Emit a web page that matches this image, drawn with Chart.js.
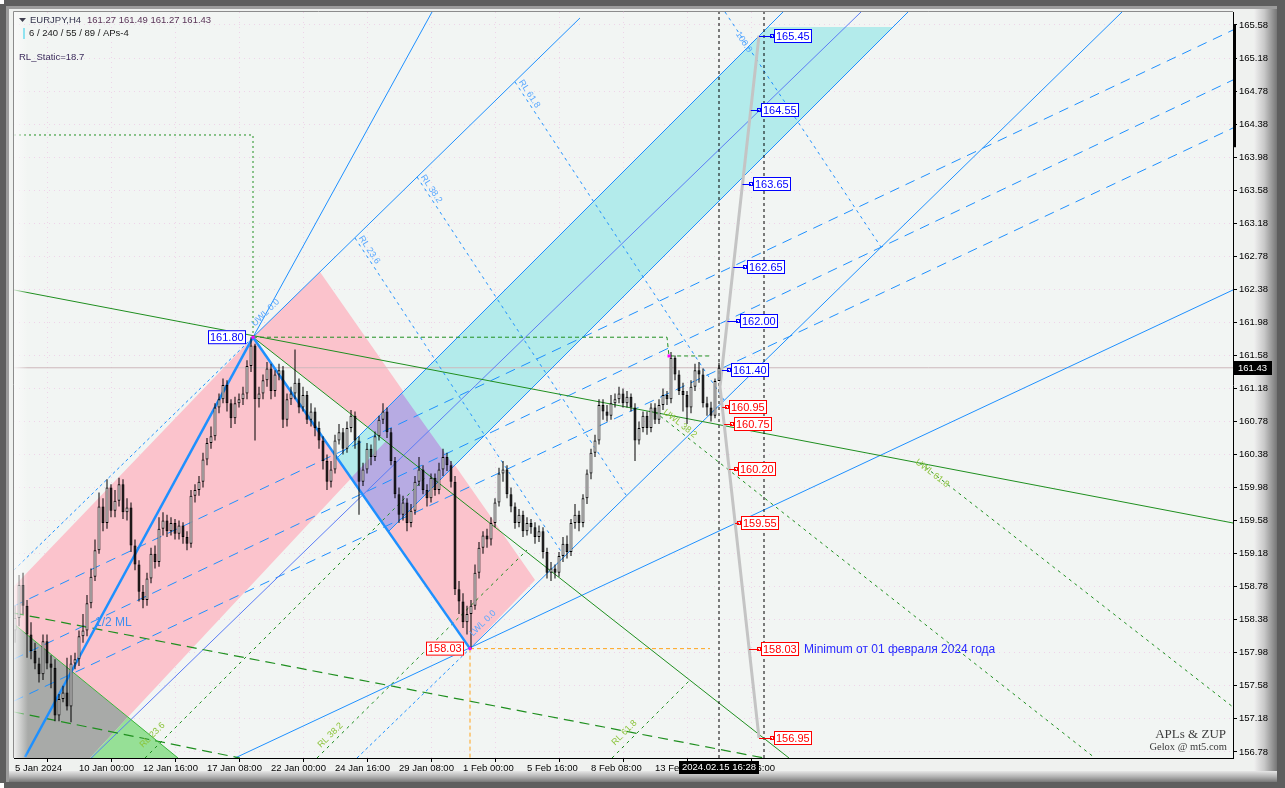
<!DOCTYPE html>
<html>
<head>
<meta charset="utf-8">
<title>EURJPY,H4</title>
<script src="https://cdn.jsdelivr.net/npm/chart.js@4.4.1/dist/chart.umd.min.js"></script>
<style>
html,body{margin:0;padding:0;background:#5f5f5f;overflow:hidden;}
#wrap{position:relative;width:1285px;height:788px;}
canvas{display:block;}
</style>
</head>
<body>
<div id="wrap"><canvas id="chart" width="1285" height="788"></canvas></div>
<script>
// ================= DATA =================
const firstBar = -16;   // bar index of the first candle (10 Jan 00:00 = bar 0)
const opens = [
158.25,158.40,158.80,158.55,158.20,158.00,157.85,157.72,158.12,157.85,157.80,157.22,157.42,157.50,157.33,157.85,
157.90,158.18,158.25,158.58,158.90,159.22,159.75,159.55,159.98,159.70,159.82,160.02,159.68,159.74,159.28,159.05,
158.72,158.62,158.88,159.18,159.08,159.48,159.58,159.45,159.55,159.42,159.52,159.38,159.30,159.88,159.95,160.05,
160.32,160.52,160.60,160.95,161.05,161.22,161.00,160.82,161.00,161.05,161.12,161.45,161.70,161.05,161.12,161.28,
161.42,161.15,161.35,161.40,160.80,161.05,161.12,161.25,160.95,161.10,160.80,160.90,160.70,160.55,160.30,160.05,
160.20,160.55,160.65,160.45,160.70,160.85,160.55,160.05,160.20,160.45,160.35,160.60,160.80,160.90,160.65,160.30,
159.90,159.65,159.80,159.55,159.70,160.05,160.20,159.95,159.85,160.10,159.95,160.20,160.35,160.25,160.05,158.75,
158.60,158.35,158.45,158.55,158.95,159.25,159.40,159.35,159.55,159.80,160.15,160.20,159.90,159.75,159.55,159.65,
159.45,159.55,159.50,159.38,159.45,159.20,158.95,159.00,158.95,159.15,159.30,159.20,159.55,159.65,159.55,159.85,
160.15,160.40,160.55,160.98,160.90,160.85,161.00,161.05,161.12,161.00,161.08,160.95,160.55,160.70,160.85,160.70,
160.95,160.80,160.98,161.10,161.05,161.55,161.35,161.15,161.10,160.95,161.20,161.40,161.35,161.00,160.95,160.85,
161.27];
const highs = [
158.55,158.92,158.95,158.62,158.35,158.10,157.92,158.20,158.20,157.95,157.90,157.48,157.58,157.92,157.95,157.98,
158.25,158.45,158.68,159.00,159.35,159.92,159.85,160.08,160.02,159.95,160.10,160.08,159.85,159.80,159.35,159.10,
158.80,158.95,159.25,159.28,159.62,159.68,159.65,159.62,159.60,159.58,159.56,159.45,159.95,160.02,160.12,160.40,
160.58,160.72,161.00,161.12,161.30,161.28,161.05,161.08,161.12,161.20,161.52,161.80,161.72,161.20,161.35,161.50,
161.48,161.40,161.48,161.45,161.12,161.20,161.65,161.30,161.20,161.15,161.00,160.95,160.78,160.60,160.38,160.30,
160.62,160.75,160.70,160.78,160.92,160.90,160.60,160.28,160.52,160.50,160.66,160.85,161.00,160.95,160.70,160.35,
159.98,159.88,159.85,159.78,160.12,160.35,160.25,160.02,160.15,160.15,160.28,160.45,160.40,160.30,160.12,158.85,
158.70,158.55,158.62,159.05,159.32,159.45,159.48,159.62,159.85,160.22,160.30,160.25,159.98,159.80,159.72,159.70,
159.62,159.60,159.56,159.52,159.50,159.25,159.08,159.05,159.20,159.38,159.40,159.60,159.78,159.70,159.90,160.20,
160.45,160.62,161.05,161.05,160.98,161.10,161.12,161.20,161.18,161.15,161.12,161.00,160.78,160.90,160.90,161.00,
161.00,161.05,161.18,161.15,161.62,161.58,161.40,161.25,161.15,161.28,161.48,161.50,161.42,161.08,161.02,161.30,
161.49];
const lows = [
158.10,158.30,158.45,157.92,157.90,157.78,157.62,157.65,157.78,157.55,157.15,157.15,157.38,157.28,157.14,157.78,
157.82,158.10,158.18,158.52,158.85,159.18,159.45,159.48,159.62,159.62,159.75,159.60,159.58,159.20,158.98,158.60,
158.52,158.55,158.82,159.00,159.02,159.40,159.38,159.40,159.35,159.35,159.30,159.22,159.25,159.80,159.88,159.98,
160.25,160.45,160.55,160.88,161.00,160.90,160.70,160.75,160.95,160.98,161.05,161.38,160.55,160.95,161.05,161.20,
161.05,161.08,161.28,160.70,160.72,160.98,161.05,160.88,160.90,160.75,160.72,160.60,160.45,160.20,159.95,159.98,
160.15,160.50,160.38,160.40,160.65,160.45,159.65,160.00,160.15,160.25,160.30,160.55,160.75,160.58,160.25,159.85,
159.55,159.58,159.45,159.50,159.65,160.00,159.90,159.75,159.80,159.88,159.90,160.12,160.18,159.98,158.68,158.45,
158.28,158.20,158.03,158.50,158.88,159.18,159.25,159.28,159.50,159.75,160.05,159.85,159.68,159.48,159.50,159.38,
159.40,159.42,159.30,159.32,159.12,158.88,158.85,158.88,158.90,159.08,159.12,159.15,159.48,159.45,159.50,159.78,
160.08,160.35,160.50,160.80,160.78,160.80,160.95,161.00,160.95,160.95,160.90,160.30,160.50,160.65,160.62,160.65,
160.75,160.75,160.92,160.98,161.00,161.28,161.10,160.90,160.75,160.88,161.15,161.25,160.95,160.85,160.78,160.82,
161.27];
const closes = [
158.40,158.80,158.55,158.20,158.00,157.85,157.72,158.12,157.85,157.80,157.22,157.42,157.50,157.33,157.85,157.90,
158.18,158.25,158.58,158.90,159.22,159.75,159.55,159.98,159.70,159.82,160.02,159.68,159.74,159.28,159.05,158.72,
158.62,158.88,159.18,159.08,159.48,159.58,159.45,159.55,159.42,159.52,159.38,159.30,159.88,159.95,160.05,160.32,
160.52,160.60,160.95,161.05,161.22,161.00,160.82,161.00,161.05,161.12,161.45,161.70,161.05,161.12,161.28,161.42,
161.15,161.35,161.40,160.80,161.05,161.12,161.25,160.95,161.10,160.80,160.90,160.70,160.55,160.30,160.05,160.20,
160.55,160.65,160.45,160.70,160.85,160.55,160.05,160.20,160.45,160.35,160.60,160.80,160.90,160.65,160.30,159.90,
159.65,159.80,159.55,159.70,160.05,160.20,159.95,159.85,160.10,159.95,160.20,160.35,160.25,160.05,158.75,158.60,
158.35,158.45,158.55,158.95,159.25,159.40,159.35,159.55,159.80,160.15,160.20,159.90,159.75,159.55,159.65,159.45,
159.55,159.50,159.38,159.45,159.20,158.95,159.00,158.95,159.15,159.30,159.20,159.55,159.65,159.55,159.85,160.15,
160.40,160.55,160.98,160.90,160.85,161.00,161.05,161.12,161.00,161.08,160.95,160.55,160.70,160.85,160.70,160.95,
160.80,160.98,161.10,161.05,161.55,161.35,161.15,161.10,160.95,161.20,161.40,161.35,161.00,160.95,160.85,161.27,
161.43];

const timeTickIdx = [-16, 0, 16, 32, 48, 64, 80, 96, 112, 128, 144, 160];
const timeTickLabels = ['5 Jan 2024','10 Jan 00:00','12 Jan 16:00','17 Jan 08:00','22 Jan 00:00','24 Jan 16:00',
  '29 Jan 08:00','1 Feb 00:00','5 Feb 16:00','8 Feb 08:00','13 Feb 00:00','15 Feb 16:00'];
const priceTicks = [156.78,157.18,157.58,157.98,158.38,158.78,159.18,159.58,159.98,160.38,160.78,161.18,
  161.58,161.98,162.38,162.78,163.18,163.58,163.98,164.38,164.78,165.18,165.58];

const xRange = [-16.25, 288.5];
const yRange = [156.706, 165.737];

// pivots
const pivotHigh = [43.5, 161.80];
const pivotLow  = [97.75, 158.03];
const lastPrice = 161.43;

// projected levels (ZUP)
const projUp   = [165.45, 164.55, 163.65, 162.65, 162.00, 161.40];
const projDown = [160.95, 160.75, 160.20, 159.55, 158.03, 156.95];
const projPath = [[170, 165.45], [160.25, 161.2], [170, 156.95]];

// filled zones [bar, price]
const pinkA    = [[-21.3,158.53],[43.5,161.80],[76.75,160.544],[12.25,157.202]];
const pinkB    = [[43.5,161.80],[60.25,162.59],[114,158.861],[97.75,158.03]];
const overlapAB= [[43.5,161.80],[76.75,160.544],[68,160.096]];
const cyanBand = [[64.5,160.338],[172.25,165.556],[203.5,165.556],[77.5,159.454]];
const cyanInB  = [[72.25,160.713],[80.75,161.125],[93.75,160.241],[77.5,159.454],[68,160.096],[76.75,160.544]];
const grayTri  = [[-16.25,158.328],[12.25,157.202],[2.75,156.706],[-16.25,156.706]];
const greenTri = [[12.25,157.202],[2.75,156.706],[24.75,156.706]];

// blue pitchfork lines
const upLeg     = [[-13.5,156.718],[43.5,161.80]];
const upLegExt  = [[43.5,161.80],[88.25,165.737]];
const downLeg   = [[43.5,161.80],[97.75,158.03]];
const utl       = [[43.5,161.80],[125.25,165.665]];
const utlBack   = [[-16.25,158.982],[43.5,161.80]];
const chanUpper = [[64.5,160.338],[176,165.737]];
const medianLn  = [[-0.25,156.55],[195.5,165.737]];
const chanLower = [[77.5,159.454],[207.25,165.737]];
const ltl       = [[97.75,158.03],[260.75,165.737]];
const ltlBack   = [[69.5,156.706],[97.75,158.03]];
const lowRay    = [[39,156.706],[288.5,162.372]];
const fan1      = [[-16.25,158.546],[288.5,165.519]];
const fan2      = [[-16.25,157.904],[288.5,164.914]];
const fan3      = [[-16.25,157.396],[288.5,164.333]];
const rl236     = [[69,163.001],[121.25,159.152]];
const rl382     = [[84.5,163.74],[136.75,159.89]];
const rl618     = [[109,164.89],[161.25,161.04]];
const rl100     = [[161.5,165.737],[200.5,162.892]];

// green pitchfork lines
const gUpper   = [[-16.25,162.372],[288.5,159.551]];
const gHighRay = [[43.5,161.80],[177.5,156.706]];
const gLowLeft = [[-16.25,158.328],[24.75,156.706]];
const gDash1   = [[-16.25,158.461],[171.25,156.706]];
const gDash2   = [[-16.25,157.263],[40.25,156.706]];
const gUwl382  = [[144,160.895],[254,156.706]];
const gUwl618  = [[210.25,160.278],[288.5,157.323]];
const gRl236   = [[16.5,156.706],[86.5,160.096]];
const gRl382   = [[59.5,156.706],[112,159.224]];
const gRl618   = [[133.25,156.706],[153,157.662]];
const gBox     = [[-16.25,164.248],[43.5,164.248],[43.5,161.80]];
const gHighLvl = [[43.5,161.80],[147,161.80],[147.5,161.573],[158.25,161.573]];
const orangeH  = [[97.75,158.03],[157.75,158.03]];
const orangeV  = [[97.75,158.03],[97.75,156.706]];
const vLine1   = [[160,156.706],[160,165.737]];
const vLine2   = [[171.25,156.706],[171.25,165.737]];

// ================= BUILD =================
const FONT = "'Liberation Sans', Arial, sans-serif";
Chart.defaults.font.family = FONT;
const BLUE = '#1e90ff', GREEN = '#1f8f1f', PLOT_BG = '#f2f5f3';

const barX = opens.map((_, k) => firstBar + k);
const toXY = pts => pts.map(p => ({x: p[0], y: p[1]}));

function seg(points, color, width, dash, order) {
  return {type: 'line', data: toXY(points), borderColor: color, borderWidth: width,
    borderDash: dash || [], pointRadius: 0, pointHoverRadius: 0, fill: false,
    tension: 0, order: order === undefined ? 20 : order};
}
function zone(points, color, order) {
  return {type: 'line', data: toXY(points.concat([points[0]])), borderWidth: 0,
    borderColor: 'rgba(0,0,0,0)', backgroundColor: color, fill: 'shape',
    pointRadius: 0, tension: 0, order: order};
}

const datasets = [
  zone(grayTri, '#a8aaa8', 48),
  zone(greenTri, '#96e096', 48),
  zone(pinkA, '#fbc3cc', 47),
  zone(pinkB, '#fbc3cc', 47),
  zone(overlapAB, PLOT_BG, 46),
  zone(cyanBand, '#b3ebeb', 45),
  zone(cyanInB, '#b7abe3', 44),

  seg([[xRange[0], lastPrice],[xRange[1], lastPrice]], '#cdb8bc', 1, [], 30),
  seg(gBox, GREEN, 1, [2, 3]),
  seg(gHighLvl, GREEN, 1, [4, 3]),
  seg(orangeH, '#ffa41c', 1, [4, 3]),
  seg(orangeV, '#ffa41c', 1, [4, 3]),
  seg(vLine1, '#000', 1, [3, 3]),
  seg(vLine2, '#000', 1, [3, 3]),

  seg(gUpper, GREEN, 1),
  seg(gHighRay, GREEN, 1),
  seg(gLowLeft, '#3cb43c', 1),
  seg(gDash1, GREEN, 1.2, [10, 6]),
  seg(gDash2, GREEN, 1.2, [10, 6]),
  seg(gUwl382, GREEN, 1, [3, 4]),
  seg(gUwl618, GREEN, 1, [3, 4]),
  seg(gRl236, GREEN, 1, [3, 4]),
  seg(gRl382, GREEN, 1, [3, 4]),
  seg(gRl618, GREEN, 1, [3, 4]),

  seg(utl, BLUE, 1),
  seg(utlBack, BLUE, 1, [3, 3]),
  seg(chanUpper, BLUE, 1),
  seg(medianLn, '#5b7cf5', 1),
  seg(chanLower, BLUE, 1),
  seg(ltl, BLUE, 1),
  seg(ltlBack, BLUE, 1, [3, 3]),
  seg(lowRay, BLUE, 1),
  seg(fan1, BLUE, 1, [10, 7]),
  seg(fan2, BLUE, 1, [10, 7]),
  seg(fan3, BLUE, 1, [10, 7]),
  seg(rl236, BLUE, 1, [3, 4]),
  seg(rl382, BLUE, 1, [3, 4]),
  seg(rl618, BLUE, 1, [3, 4]),
  seg(rl100, BLUE, 1, [3, 4]),
  seg(upLegExt, BLUE, 1),
  seg(upLeg, BLUE, 2.5, [], 15),
  seg(downLeg, BLUE, 2.5, [], 15),
  seg(projPath, '#c4c4c4', 3, [], 14),

  {type: 'bar', data: barX.map((x, k) => ({x, y: [lows[k], highs[k]]})),
    backgroundColor: '#000', barThickness: 1, grouped: false, inflateAmount: 0, order: 11},
  {type: 'bar', data: barX.map((x, k) => ({x, y: [opens[k], closes[k]]})),
    backgroundColor: barX.map((x, k) => closes[k] >= opens[k] ? '#ffffff' : '#000000'),
    borderColor: '#000', borderWidth: 1, borderSkipped: false, barThickness: 3,
    minBarLength: 1, grouped: false, inflateAmount: 0, order: 10}
];

// ================= PLUGINS =================
const framePlugin = {
  id: 'frame',
  beforeDraw(chart) {
    const {ctx, chartArea: a} = chart;
    const W = chart.width, H = chart.height;
    ctx.save();
    ctx.fillStyle = '#eff1ef'; ctx.fillRect(0, 0, W, H);
    let g = ctx.createLinearGradient(1254, 0, 1277, 0);
    g.addColorStop(0, '#f0f0f0'); g.addColorStop(0.45, '#c8c8c8'); g.addColorStop(1, '#767676');
    ctx.fillStyle = g; ctx.fillRect(1254, 8, 23, 774);
    g = ctx.createLinearGradient(0, 771, 0, 782);
    g.addColorStop(0, '#e6e6e6'); g.addColorStop(0.5, '#b4b4b4'); g.addColorStop(1, '#787878');
    ctx.fillStyle = g; ctx.fillRect(8, 771, 1269, 11);
    ctx.fillStyle = '#5e5e5e';
    ctx.fillRect(0, 0, W, 6); ctx.fillRect(0, 0, 6, H); ctx.fillRect(W - 8, 0, 8, H); ctx.fillRect(0, H - 6, W, 6);
    ctx.fillStyle = '#9c9c9c';
    ctx.fillRect(6, 6, W - 14, 3); ctx.fillRect(6, 6, 3, H - 12);
    ctx.fillStyle = '#ffffff'; ctx.fillRect(0, 0, 4, 4); ctx.fillRect(0, H - 5, 4, 5);
    ctx.fillStyle = PLOT_BG;
    ctx.fillRect(a.left, a.top, a.right - a.left, a.bottom - a.top);
    ctx.strokeStyle = '#8c8c8c'; ctx.lineWidth = 1;
    ctx.beginPath(); ctx.moveTo(a.left - 0.5, a.bottom); ctx.lineTo(a.left - 0.5, a.top - 0.5); ctx.lineTo(a.right, a.top - 0.5); ctx.stroke();
    ctx.restore();
  }
};

function lineAngle(X, Y, ln) {
  let ang = Math.atan2(Y(ln[1][1]) - Y(ln[0][1]), X(ln[1][0]) - X(ln[0][0]));
  if (ang > Math.PI / 2) ang -= Math.PI;
  if (ang < -Math.PI / 2) ang += Math.PI;
  return ang;
}
function projX(p) {
  const [a, b, c] = projPath;
  const s = p >= b[1] ? [b, a] : [b, c];
  const t = (p - s[0][1]) / (s[1][1] - s[0][1]);
  return s[0][0] + t * (s[1][0] - s[0][0]);
}
function priceBox(ctx, x, y, text, color) {
  ctx.font = '11px ' + FONT;
  const w = Math.ceil(ctx.measureText(text).width) + 4;
  ctx.fillStyle = '#ffffff'; ctx.fillRect(x, y - 7, w, 14);
  ctx.strokeStyle = color; ctx.lineWidth = 1; ctx.strokeRect(x + 0.5, y - 6.5, w - 1, 13);
  ctx.fillStyle = color; ctx.textBaseline = 'middle'; ctx.textAlign = 'left';
  ctx.fillText(text, x + 2, y + 0.5);
  return w;
}

const rotLabels = [
  {t: 'RL 23.6', ln: rl236, at: rl236[0], c: '#5aa8ff', dx: 2, dy: -3},
  {t: 'RL 38.2', ln: rl382, at: rl382[0], c: '#5aa8ff', dx: 2, dy: -3},
  {t: 'RL 61.8', ln: rl618, at: rl618[0], c: '#5aa8ff', dx: 2, dy: -3},
  {t: '100.0', ln: rl100, at: [163.5, 165.45], c: '#5aa8ff', dx: 0, dy: -3},
  {t: 'UWL 0.0', ln: utl, at: [44.5, 161.9], c: '#5aa8ff', dx: 0, dy: -3},
  {t: 'LWL 0.0', ln: ltl, at: [99, 158.15], c: '#5aa8ff', dx: 0, dy: -3},
  {t: 'RL 23.6', ln: gRl236, at: [16.5, 156.8], c: '#8cc43c', dx: 0, dy: -3},
  {t: 'RL 38.2', ln: gRl382, at: [61, 156.8], c: '#8cc43c', dx: 0, dy: -3},
  {t: 'RL 61.8', ln: gRl618, at: [134.5, 156.83], c: '#8cc43c', dx: 0, dy: -3},
  {t: 'UWL 38.2', ln: gUwl382, at: [145.5, 160.85], c: '#8cc43c', dx: 0, dy: -3},
  {t: 'UWL 61.8', ln: gUwl618, at: [208.5, 160.25], c: '#8cc43c', dx: 0, dy: -3}
];
const upOffsets = [15, 10, 11, 14, 13, 9];
const downOffsets = [7, 10, 9, 6, 12, 15];

const annotPlugin = {
  id: 'annot',
  afterDatasetsDraw(chart) {
    const {ctx, chartArea: a, scales: {x, y}} = chart;
    const X = v => x.getPixelForValue(v), Y = v => y.getPixelForValue(v);
    ctx.save();
    ctx.beginPath(); ctx.rect(a.left, a.top, a.right - a.left, a.bottom - a.top); ctx.clip();
    const g = ctx.createLinearGradient(a.left, 0, a.left + 14, 0);
    g.addColorStop(0, 'rgba(250,250,250,0.85)'); g.addColorStop(1, 'rgba(250,250,250,0)');
    ctx.fillStyle = g; ctx.fillRect(a.left, a.top, 14, a.bottom - a.top);
    ctx.font = '9px ' + FONT; ctx.textBaseline = 'alphabetic'; ctx.textAlign = 'left';
    rotLabels.forEach(l => {
      ctx.save();
      ctx.translate(X(l.at[0]), Y(l.at[1]));
      ctx.rotate(lineAngle(X, Y, l.ln));
      ctx.fillStyle = l.c; ctx.fillText(l.t, l.dx, l.dy);
      ctx.restore();
    });
    ctx.font = '12px ' + FONT; ctx.fillStyle = '#3d8ff0'; ctx.textBaseline = 'middle';
    ctx.fillText('1/2 ML', X(4), Y(158.35));
    ctx.fillStyle = '#ff00ff';
    [pivotHigh, pivotLow, [147.5, 161.573]].forEach(p => ctx.fillRect(X(p[0]) - 1.5, Y(p[1]) - 1.5, 3, 3));
    ctx.font = '11px ' + FONT;
    const wH = Math.ceil(ctx.measureText('161.80').width) + 4;
    priceBox(ctx, X(pivotHigh[0]) - 7 - wH, Y(pivotHigh[1]), '161.80', '#0000ff');
    priceBox(ctx, X(pivotLow[0]) - 6 - wH, Y(pivotLow[1]), '158.03', '#ff0000');
    const drawProj = (list, offs, color) => list.forEach((p, k) => {
      const gx = X(projX(p)), py = Math.round(Y(p));
      const bx = Math.round(gx + offs[k]);
      ctx.strokeStyle = color; ctx.lineWidth = 1;
      ctx.beginPath(); ctx.moveTo(gx, py + 0.5); ctx.lineTo(bx - 2, py + 0.5); ctx.stroke();
      ctx.strokeRect(bx - 3.5, py - 1.5, 3, 3);
      const w = priceBox(ctx, bx, py, p.toFixed(2), color);
      if (p === 158.03) {
        ctx.font = '12px ' + FONT; ctx.fillStyle = '#2a2aff'; ctx.textBaseline = 'middle';
        ctx.fillText('Minimum от 01 февраля 2024 года', bx + w + 5, py + 0.5);
      }
    });
    drawProj(projUp, upOffsets, '#0000ff');
    drawProj(projDown, downOffsets, '#ff0000');
    ctx.fillStyle = '#3c3c3c'; ctx.textAlign = 'right'; ctx.textBaseline = 'middle';
    ctx.font = '13px "Liberation Serif", "DejaVu Serif", serif';
    ctx.fillText('APLs & ZUP', 1226, 735);
    ctx.font = '10.5px "Liberation Serif", "DejaVu Serif", serif';
    ctx.fillText('Gelox @ mt5.com', 1227, 747);
    ctx.restore();
  },
  afterDraw(chart) {
    const {ctx, chartArea: a, scales: {x, y}} = chart;
    const X = v => x.getPixelForValue(v), Y = v => y.getPixelForValue(v);
    ctx.save();
    ctx.textBaseline = 'middle'; ctx.textAlign = 'left';
    ctx.fillStyle = '#404050';
    ctx.beginPath(); ctx.moveTo(19, 18); ctx.lineTo(26, 18); ctx.lineTo(22.5, 22); ctx.closePath(); ctx.fill();
    ctx.font = '9.5px ' + FONT;
    ctx.fillStyle = '#34344e'; ctx.fillText('EURJPY,H4', 30, 20.5);
    ctx.fillStyle = '#5a3458'; ctx.fillText('161.27 161.49 161.27 161.43', 87, 20.5);
    ctx.fillStyle = '#8fe3f0'; ctx.fillRect(23, 28, 2, 11);
    ctx.fillStyle = '#1a1a1a'; ctx.fillText('6 / 240 / 55 / 89 / APs-4', 29, 33.5);
    ctx.fillStyle = '#3c2c5c'; ctx.fillText('RL_Static=18.7', 19, 57.5);
    ctx.fillStyle = '#000'; ctx.fillRect(a.right, Y(165.58), 3, Y(164.10) - Y(165.58));
    const py = Math.round(Y(lastPrice));
    ctx.fillStyle = '#000'; ctx.fillRect(a.right + 1, py - 7, 38, 14);
    ctx.fillStyle = '#fff'; ctx.font = '9.5px ' + FONT; ctx.fillText(lastPrice.toFixed(2), a.right + 5, py + 0.5);
    const tx = X(160);
    ctx.fillStyle = '#000'; ctx.fillRect(tx - 40, a.bottom + 3, 80, 13);
    ctx.fillStyle = '#fff'; ctx.textAlign = 'center';
    ctx.fillText('2024.02.15 16:28', tx, a.bottom + 9.5);
    ctx.restore();
  }
};

// ================= CHART =================
new Chart(document.getElementById('chart'), {
  type: 'line',
  data: {datasets},
  options: {
    responsive: false,
    devicePixelRatio: 1,
    animation: false,
    events: [],
    layout: {padding: {left: 14, top: 12, right: 0, bottom: 0}},
    plugins: {legend: {display: false}, tooltip: {enabled: false}},
    scales: {
      x: {
        type: 'linear', min: xRange[0], max: xRange[1], offset: false,
        afterBuildTicks: s => { s.ticks = timeTickIdx.map(v => ({value: v})); },
        afterFit: s => { s.height = 30; },
        ticks: {autoSkip: false, maxRotation: 0, minRotation: 0, align: 'start', padding: 1,
          color: '#000', font: {size: 9.5},
          callback: v => { const k = timeTickIdx.indexOf(v); return k >= 0 ? timeTickLabels[k] : ''; }},
        grid: {color: 'rgba(236,170,222,0.45)', lineWidth: 1, tickLength: 4, tickColor: '#000', drawOnChartArea: true},
        border: {display: true, color: '#000', width: 1, dash: [1, 4]}
      },
      y: {
        type: 'linear', position: 'right', min: yRange[0], max: yRange[1],
        afterBuildTicks: s => { s.ticks = priceTicks.map(v => ({value: v})); },
        afterFit: s => { s.width = 52; },
        ticks: {padding: 2, color: '#000', font: {size: 9.5}, callback: v => Number(v).toFixed(2)},
        grid: {color: 'rgba(236,170,222,0.45)', lineWidth: 1, tickLength: 4, tickColor: '#000', drawOnChartArea: true},
        border: {display: true, color: '#000', width: 1, dash: [1, 4]}
      }
    }
  },
  plugins: [framePlugin, annotPlugin]
});
</script>
</body>
</html>
